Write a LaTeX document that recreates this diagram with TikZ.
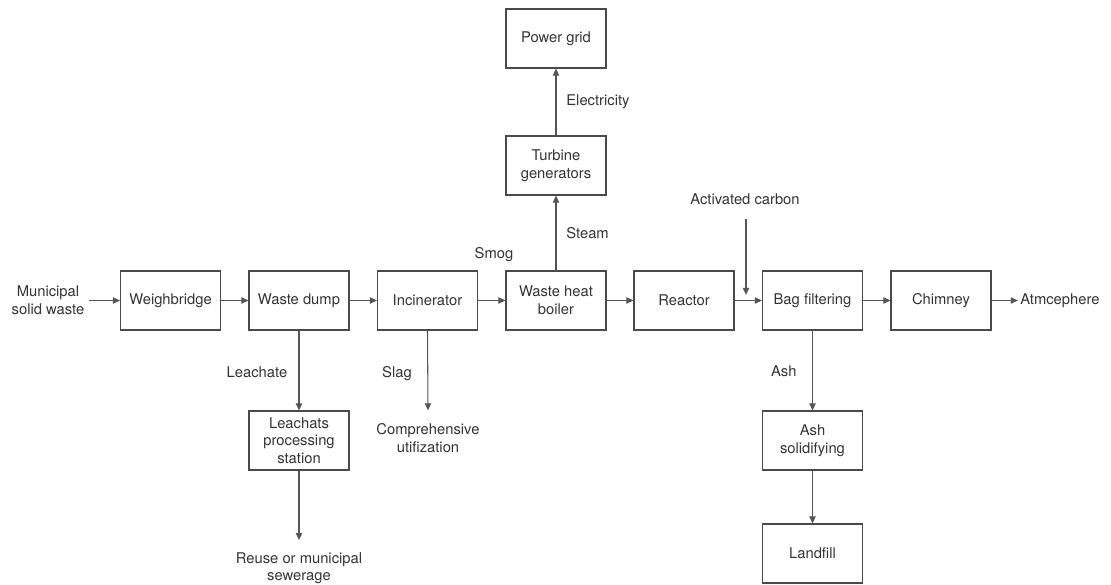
\documentclass[tikz,border=0pt]{standalone}
\usepackage{fontspec}
\setmainfont{TeX Gyre Heros}
\usetikzlibrary{arrows.meta}
\definecolor{boxgray}{HTML}{4A4A4A}
\definecolor{linegray}{HTML}{555555}
\definecolor{txtgray}{HTML}{333333}

\begin{document}
\begin{tikzpicture}[x=0.025cm,y=-0.025cm,
  box/.style={draw=boxgray,line width=0.75pt,minimum width=2.5cm,minimum height=1.475cm,inner sep=0pt,align=center,text=txtgray},
  lbl/.style={inner sep=0pt,align=center,text=txtgray},
  arr/.style={draw=linegray,line width=0.75pt,-{Triangle[length=5pt,width=4.5pt]}}]
  \useasboundingbox (0,0) rectangle (1111,585);
  \fontsize{10.5}{12.6}\selectfont
  \node [lbl] (msw) at (48,300.5) {Municipal\\solid waste};
  \node [box] (wb) at (170.5,300.5) {Weighbridge};
  \node [box] (dump) at (299,300.5) {Waste dump};
  \node [box] (inc) at (427.5,300.5) {Incinerator};
  \node [box] (boiler) at (556,300.5) {Waste heat\\boiler};
  \node [box] (reac) at (684,300.5) {Reactor};
  \node [box] (bag) at (812.5,300.5) {Bag filtering};
  \node [box] (chim) at (941,300.5) {Chimney};
  \node [lbl,anchor=west] (atm) at (1020,300.5) {Atmcephere};
  \node [box] (turb) at (556,165.5) {Turbine\\generators};
  \node [box] (grid) at (556,38.5) {Power grid};
  \node [box] (leach) at (299,440.5) {Leachats\\processing\\station};
  \node [box] (ashs) at (812.5,440.5) {Ash\\solidifying};
  \node [box] (land) at (812.5,553.5) {Landfill};
  \node [lbl,anchor=north] (comp) at (428,423) {Comprehensive\\utifization};
  \node [lbl,anchor=north] (reuse) at (299,552) {Reuse or municipal\\sewerage};
  \node [lbl] (carbon) at (745,199) {Activated carbon};
  \node [lbl] (smog) at (494,255) {Smog};
  \draw [arr,shorten <=3pt] (msw) -- (wb);
  \draw [arr] (wb) -- (dump);
  \draw [arr] (dump) -- (inc);
  \draw [arr] (inc) -- (boiler);
  \draw [arr] (boiler) -- (reac);
  \draw [arr] (reac) -- (bag);
  \draw [arr] (bag) -- (chim);
  \draw [arr,shorten >=1.5pt] (chim) -- (atm);
  \draw [arr] (boiler) -- node [lbl,right=7pt] {Steam} (turb);
  \draw [arr] (turb) -- node [lbl,right=7pt] {Electricity} (grid);
  \draw [arr] (dump) -- node [lbl,left=8pt,pos=0.52] {Leachate} (leach);
  \draw [arr] (inc.south) -- node [lbl,left=11pt,pos=0.54] {Slag} ([yshift=9pt]comp.north);
  \draw [arr] (leach.south) -- ([yshift=8.5pt]reuse.north);
  \draw [arr] (bag) -- node [lbl,left=11pt,pos=0.51] {Ash} (ashs);
  \draw [arr] (ashs) -- (land);
  \draw [arr,shorten <=10pt,shorten >=4pt] (carbon.south -| 746,0) -- (746,300.5);
\end{tikzpicture}
\end{document}
